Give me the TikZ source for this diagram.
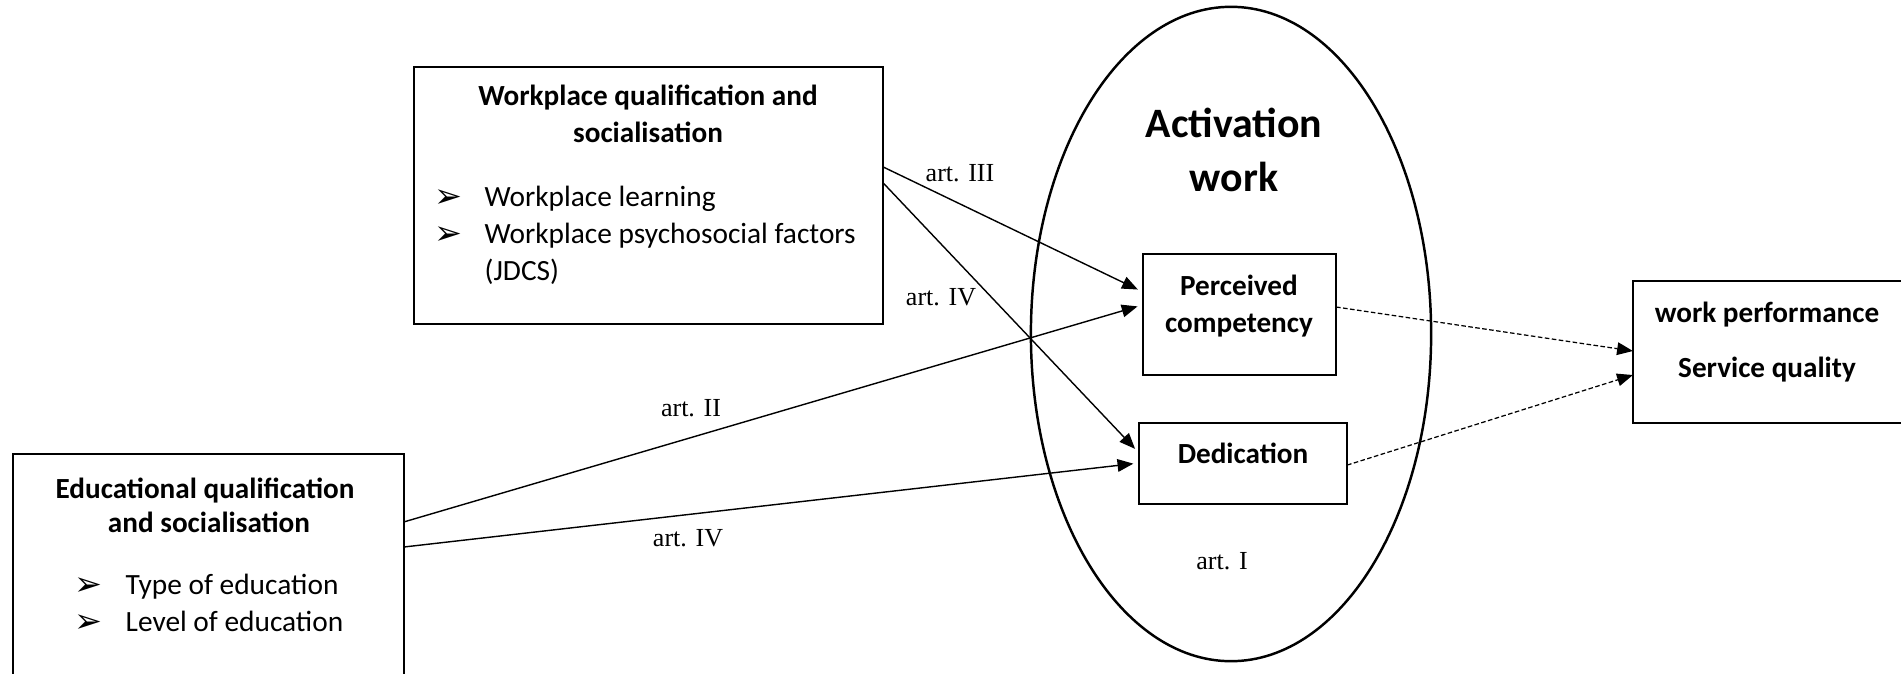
\documentclass[tikz,border=0pt]{standalone}
\usepackage{fontspec}
\setmainfont{Carlito}
\newfontfamily\tnr{Liberation Serif}
\newfontfamily\dvs{DejaVu Sans}
\usetikzlibrary{arrows.meta,calc,shapes.geometric}
\begin{document}
\begin{tikzpicture}[x=0.01cm,y=-0.01cm,
  box/.style={draw,line width=0.75pt,rectangle,inner sep=0pt,outer sep=0pt},
  txt/.style={inner sep=0pt,font=\fontsize{8.35}{10}\selectfont},
  btxt/.style={anchor=base,inner sep=0pt,font=\fontsize{8.3}{10}\selectfont\bfseries},
  lbl/.style={anchor=base,inner sep=0pt,font=\tnr\fontsize{7.4}{9}\selectfont},
  bul/.style={anchor=base,inner sep=0pt,font=\dvs\fontsize{9.5}{11}\selectfont},
  conn/.style={line width=0.4pt,shorten >=1.6pt,-{Triangle[length=4.5pt,width=3.6pt]}},
  dconn/.style={line width=0.35pt,dash pattern=on 1.3pt off 0.7pt,-{Triangle[length=4.5pt,width=3.6pt]}},
]
\useasboundingbox (0,0) rectangle (1901,673);

% activation ellipse
\node[ellipse,draw,line width=0.7pt,minimum width=4cm,minimum height=6.54cm,inner sep=0pt] (act) at (1231,334) {};
\node[anchor=base,inner sep=0pt,font=\fontsize{11.9}{14}\selectfont\bfseries] (actA) at (1234,138) {Activation};
\node[anchor=base,inner sep=0pt,font=\fontsize{11.9}{14}\selectfont\bfseries] (actB) at (1234,192) {work};

% boxes
\node[box,minimum width=4.69cm,minimum height=2.57cm] (wp) at (648.5,195.5) {};
\node[box,minimum width=3.91cm,minimum height=2.46cm] (edu) at (208.5,577) {};
\node[box,minimum width=1.93cm,minimum height=1.21cm] (pc) at (1239.5,314.5) {};
\node[box,minimum width=2.08cm,minimum height=0.81cm] (ded) at (1243,463.5) {};
\node[box,minimum width=2.82cm,minimum height=1.42cm] (wpf) at (1774,352) {};

% workplace box text
\node[btxt] (wpt1) at (648,106) {Workplace qualification and};
\node[btxt] (wpt2) at (648,143) {socialisation};
\node[bul] (wpb1) at (448,207) {➢};
\node[txt,anchor=base west] (wpi1) at (484,206) {Workplace learning};
\node[bul] (wpb2) at (448,244) {➢};
\node[txt,anchor=base west] (wpi2) at (484,243) {Workplace psychosocial factors};
\node[txt,anchor=base west] (wpi3) at (484,280) {(JDCS)};

% educational box text
\node[btxt] (edt1) at (205,498) {Educational qualification};
\node[btxt] (edt2) at (209,532) {and socialisation};
\node[bul] (edb1) at (88,595) {➢};
\node[txt,anchor=base west] (edi1) at (125,594) {Type of education};
\node[bul] (edb2) at (88,632) {➢};
\node[txt,anchor=base west] (edi2) at (125,631) {Level of education};

% inner boxes text
\node[btxt] (pct1) at (1239,295) {Perceived};
\node[btxt] (pct2) at (1239,332) {competency};
\node[btxt] (dedt) at (1243,463) {Dedication};
\node[btxt] (wpft1) at (1767,322) {work performance};
\node[btxt] (wpft2) at (1767,377) {Service quality};

% connectors
\draw[conn] ($(wp.north east)!0.389!(wp.south east)$) -- ($(pc.north west)!0.314!(pc.south west)$);
\draw[conn] ($(wp.north east)!0.451!(wp.south east)$) -- ($(ded.north west)!0.37!(ded.south west)$);
\draw[conn] ($(edu.north east)!0.276!(edu.south east)$) -- ($(pc.north west)!0.42!(pc.south west)$);
\draw[conn] ($(edu.north east)!0.378!(edu.south east)$) -- ($(ded.north west)!0.494!(ded.south west)$);
\draw[dconn] ($(pc.north east)!0.438!(pc.south east)$) -- ($(wpf.north west)!0.493!(wpf.south west)$);
\draw[dconn] ($(ded.north east)!0.52!(ded.south east)$) -- ($(wpf.north west)!0.662!(wpf.south west)$);

% article labels
\node[lbl] (a3) at (960,182) {art. III};
\node[lbl] (a4a) at (941,305) {art. IV};
\node[lbl] (a2) at (691,416) {art. II};
\node[lbl] (a4b) at (688,546) {art. IV};
\node[lbl] (a1) at (1222,569) {art. I};
\end{tikzpicture}
\end{document}
